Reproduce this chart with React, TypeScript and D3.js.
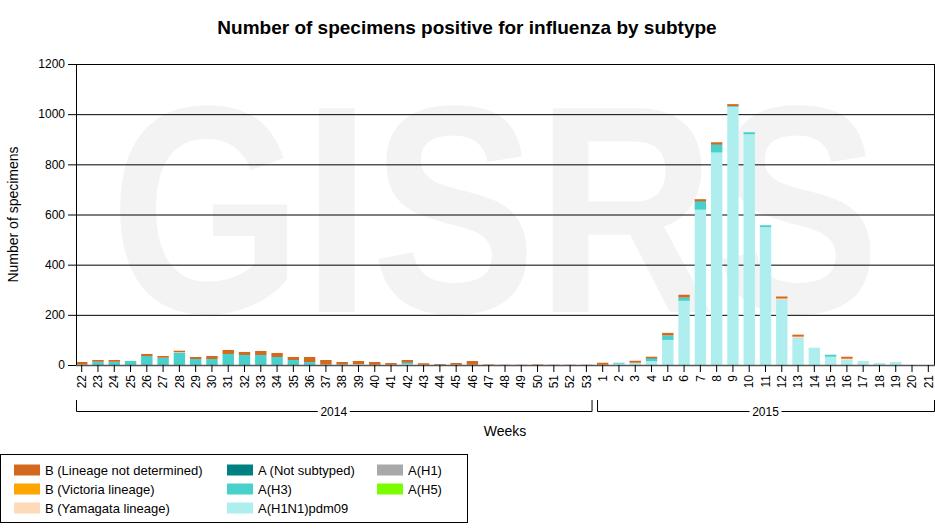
import React from 'react'
import * as d3 from 'd3'

// week labels: 2014 weeks 22-53, then 2015 weeks 1-21
const weeks2014 = [22, 23, 24, 25, 26, 27, 28, 29, 30, 31, 32, 33, 34, 35, 36, 37, 38, 39, 40, 41, 42, 43, 44, 45, 46, 47, 48, 49, 50, 51, 52, 53]
const weeks2015 = [1, 2, 3, 4, 5, 6, 7, 8, 9, 10, 11, 12, 13, 14, 15, 16, 17, 18, 19, 20, 21]
const yTicks = [0, 200, 400, 600, 800, 1000, 1200]

// values per week (same order as weeks2014 followed by weeks2015)
const h1n1pdm09 = [0, 0, 0, 0, 0, 0, 0, 0, 0, 0, 0, 0, 0, 0, 0, 0, 0, 0, 0, 0, 3, 0, 0, 0, 0, 0, 0, 0, 0, 0, 0, 0,
  1, 5, 9, 15, 100, 256, 619, 847, 1029, 920, 550, 260, 108, 69, 33, 21, 16, 8, 12, 0, 0]
const h3 = [2, 13, 13, 16, 36, 29, 49, 24, 24, 44, 40, 40, 32, 20, 12, 2, 2, 1, 1, 1, 5, 1, 1, 1, 1, 0, 0, 0, 0, 0, 0, 0,
  0, 4, 0, 10, 18, 13, 32, 30, 3, 8, 7, 0, 0, 0, 8, 0, 0, 0, 0, 0, 0]
const h1 = [0, 0, 0, 0, 0, 0, 0, 0, 0, 0, 0, 0, 0, 0, 0, 0, 0, 0, 0, 0, 0, 0, 0, 0, 0, 0, 0, 0, 0, 0, 0, 0,
  0, 0, 0, 0, 0, 0, 0, 0, 0, 0, 0, 0, 0, 0, 0, 0, 0, 0, 0, 0, 0]
const notSubtyped = [0, 0, 0, 0, 0, 0, 0, 0, 0, 0, 0, 0, 0, 0, 0, 0, 0, 0, 0, 0, 2, 0, 0, 0, 0, 0, 0, 0, 0, 0, 0, 0,
  0, 0, 0, 2, 0, 0, 2, 2, 0, 0, 0, 0, 0, 0, 0, 0, 0, 0, 0, 0, 0]
const h5 = [0, 0, 0, 0, 0, 0, 0, 0, 0, 0, 0, 0, 0, 0, 0, 0, 0, 0, 0, 0, 0, 0, 0, 0, 0, 0, 0, 0, 0, 0, 0, 0,
  0, 0, 0, 0, 0, 0, 0, 0, 0, 0, 0, 0, 0, 0, 0, 0, 0, 0, 0, 0, 0]
const yamagata = [0, 0, 0, 0, 0, 0, 2, 0, 0, 0, 0, 0, 0, 0, 0, 0, 0, 2, 0, 0, 0, 0, 0, 0, 0, 0, 0, 0, 0, 0, 0, 0,
  0, 0, 0, 0, 0, 0, 0, 0, 0, 0, 0, 5, 5, 0, 0, 4, 0, 0, 0, 0, 0]
const victoria = [0, 0, 0, 0, 0, 0, 0, 0, 0, 0, 0, 0, 0, 0, 0, 0, 0, 0, 0, 0, 0, 0, 0, 0, 0, 0, 0, 0, 0, 0, 0, 0,
  0, 0, 0, 0, 0, 0, 0, 0, 0, 0, 0, 0, 0, 0, 0, 0, 0, 0, 0, 0, 0]
const bNotDetermined = [10, 7, 7, 0, 8, 7, 6, 8, 12, 16, 12, 16, 16, 12, 20, 18, 10, 13, 11, 7, 10, 6, 3, 7, 15, 2, 1, 1, 2, 1, 1, 1,
  8, 0, 8, 6, 10, 11, 8, 9, 8, 0, 0, 8, 8, 0, 0, 8, 0, 0, 0, 0, 0]

const series = [
  {key: 'h1n1', name: 'A(H1N1)pdm09', color: '#afeeee', values: h1n1pdm09},
  {key: 'h3', name: 'A(H3)', color: '#48d1cc', values: h3},
  {key: 'h1', name: 'A(H1)', color: '#a9a9a9', values: h1},
  {key: 'ns', name: 'A (Not subtyped)', color: '#008080', values: notSubtyped},
  {key: 'h5', name: 'A(H5)', color: '#7cfc00', values: h5},
  {key: 'yam', name: 'B (Yamagata lineage)', color: '#ffdab9', values: yamagata},
  {key: 'vic', name: 'B (Victoria lineage)', color: '#ffa500', values: victoria},
  {key: 'bnd', name: 'B (Lineage not determined)', color: '#d2691e', values: bNotDetermined},
]

// legend layout: columns of keys
const legendColumns = [
  ['bnd', 'vic', 'yam'],
  ['ns', 'h3', 'h1n1'],
  ['h1', 'h5'],
]

const W = 935
const H = 529
const m = {left: 76, right: 934, top: 64, bottom: 365}
const font = 'Arial, "Liberation Sans", sans-serif'

export default function App() {
  const cats = [...weeks2014.map((w) => `2014-${w}`), ...weeks2015.map((w) => `2015-${w}`)]
  const labels = [...weeks2014, ...weeks2015]

  const x = d3.scaleBand<string>().domain(cats).range([m.left, m.right]).paddingInner(0.3).paddingOuter(0)
  const y = d3.scaleLinear().domain([0, 1200]).range([m.bottom, m.top])

  const rows = cats.map((c, i) => {
    const r: any = {cat: c}
    series.forEach((s) => (r[s.key] = s.values[i]))
    return r
  })
  const stacked = d3.stack<any>().keys(series.map((s) => s.key))(rows)

  const step = x.step()
  const split = (x(cats[weeks2014.length - 1]) as number) + x.bandwidth() / 2 + step / 2
  const brackets = [
    {label: '2014', x0: m.left, x1: split - 3},
    {label: '2015', x0: split + 2.5, x1: m.right},
  ]

  const byKey = (k: string) => series.find((s) => s.key === k)!

  return (
    <div style={{position: 'absolute', left: 0, top: 0}}>
      <svg width={W} height={H} style={{display: 'block', background: '#fff'}} fontFamily={font}>
        {/* watermark */}
        <text
          x={110}
          y={312}
          fontSize={296}
          fontWeight="bold"
          fill="#f3f3f3"
          textLength={770}
          lengthAdjust="spacingAndGlyphs">
          GISRS
        </text>

        <text x={467} y={34} textAnchor="middle" fontSize={19} fontWeight="bold" fill="#000">
          Number of specimens positive for influenza by subtype
        </text>

        {/* grid */}
        {yTicks.map((t) => (
          <g key={t}>
            <line x1={m.left - 8} x2={m.right} y1={y(t) + 0.5} y2={y(t) + 0.5} stroke="#000" />
            <text x={65} y={y(t)} dy="0.35em" textAnchor="end" fontSize={12} fill="#000">
              {t}
            </text>
          </g>
        ))}
        <line x1={m.right + 0.5} x2={m.right + 0.5} y1={m.top} y2={m.bottom} stroke="#000" />
        <line x1={m.right + 1.5} x2={m.right + 1.5} y1={m.top + 1} y2={m.bottom} stroke="#ccc" />

        {/* bars */}
        {stacked.map((layer, li) => (
          <g key={layer.key} fill={series[li].color}>
            {layer.map((d, i) =>
              d[1] - d[0] > 0 ? (
                <rect
                  key={i}
                  x={x(cats[i])}
                  y={y(d[1])}
                  width={x.bandwidth()}
                  height={y(d[0]) - y(d[1])}
                />
              ) : null,
            )}
          </g>
        ))}

        {/* axes */}
        <line x1={m.left + 0.5} x2={m.left + 0.5} y1={m.top} y2={m.bottom} stroke="#000" />
        <line x1={m.left} x2={m.right + 1} y1={m.bottom + 0.5} y2={m.bottom + 0.5} stroke="#555" strokeWidth={1.5} />
        {cats.map((c, i) => {
          const cx = (x(c) as number) + x.bandwidth() / 2
          return (
            <g key={c}>
              <line x1={cx} x2={cx} y1={m.bottom} y2={m.bottom + 7} stroke="#000" />
              <text
                transform={`translate(${cx},${m.bottom + 10}) rotate(-90)`}
                textAnchor="end"
                dy="0.35em"
                fontSize={12}
                fill="#000">
                {labels[i]}
              </text>
            </g>
          )
        })}

        {brackets.map((b) => (
          <g key={b.label}>
            <path
              d={`M${b.x0 + 0.5},400V${411.5}H${b.x1 + 0.5}V400`}
              fill="none"
              stroke="#000"
            />
            <rect x={(b.x0 + b.x1) / 2 - 16} y={403} width={32} height={16} fill="#fff" />
            <text x={(b.x0 + b.x1) / 2} y={411.5} dy="0.35em" textAnchor="middle" fontSize={12} fill="#000">
              {b.label}
            </text>
          </g>
        ))}

        <text x={505} y={436} textAnchor="middle" fontSize={14} fill="#000">
          Weeks
        </text>
        <text transform={`translate(18,${(m.top + m.bottom) / 2}) rotate(-90)`} textAnchor="middle" fontSize={14} fill="#000">
          Number of specimens
        </text>

        {/* legend */}
        <rect x={0.5} y={454.5} width={467} height={68} fill="#fff" stroke="#000" />
        {legendColumns.map((col, ci) =>
          col.map((k, ri) => {
            const s = byKey(k)
            const lx = [14, 227, 377][ci]
            const ly = 470 + ri * 19
            return (
              <g key={k}>
                <rect x={lx} y={ly - 5.5} width={26} height={11} fill={s.color} />
                <text x={lx + 31} y={ly} dy="0.35em" fontSize={13} fill="#000">
                  {s.name}
                </text>
              </g>
            )
          }),
        )}
      </svg>
    </div>
  )
}
